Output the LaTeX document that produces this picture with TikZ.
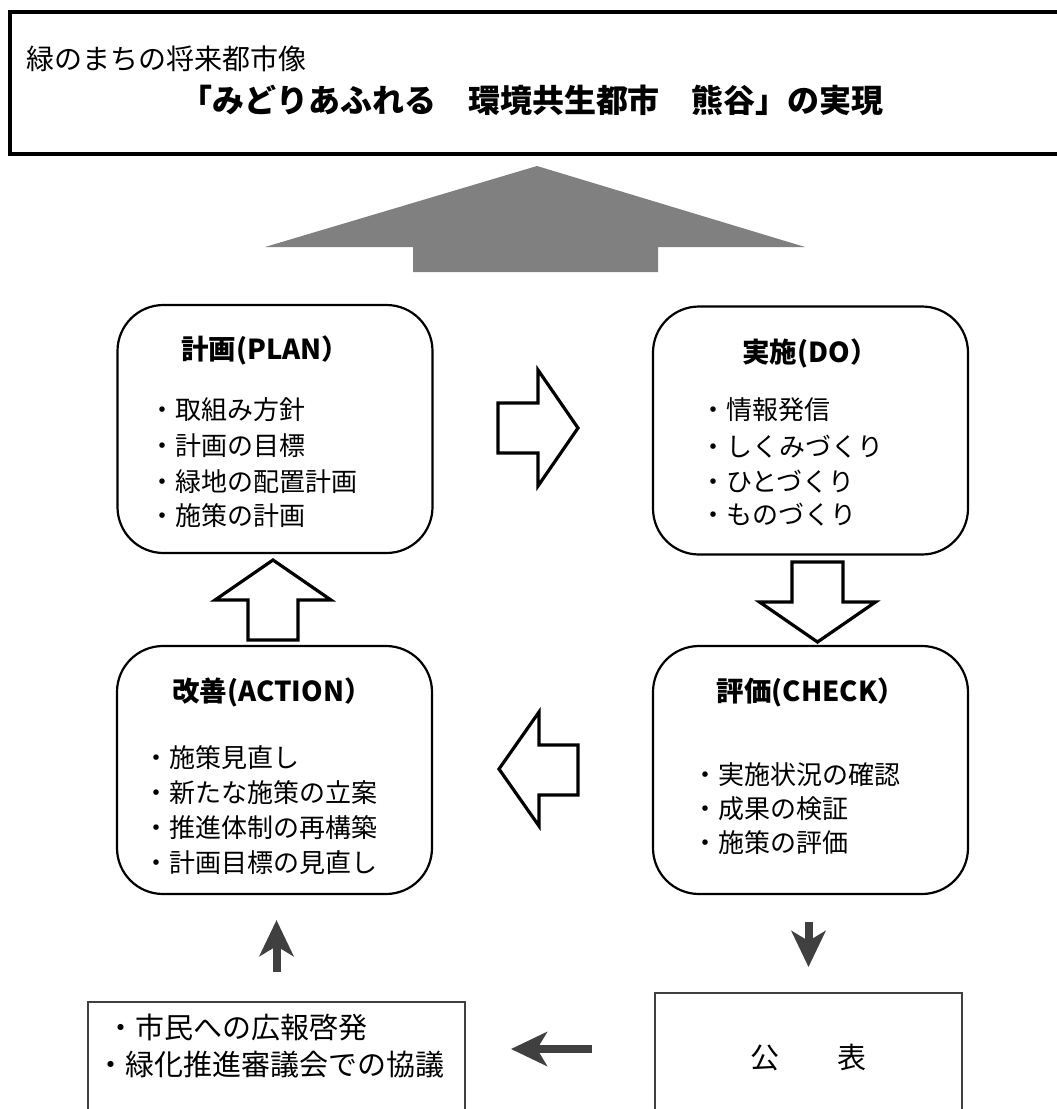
\documentclass[tikz,border=0pt]{standalone}
\usepackage{fontspec}
\newfontfamily\jp{Noto Sans CJK JP}
\usetikzlibrary{arrows.meta}
\definecolor{arrgray}{HTML}{404040}
\definecolor{boxgray}{HTML}{404040}
\definecolor{biggray}{HTML}{808080}
\begin{document}
\begin{tikzpicture}[x=1pt,y=-1pt,
  pdca/.style={draw=black, line width=2.2pt, rounded corners=46pt, minimum width=315pt, minimum height=248pt, inner sep=0pt, fill=white},
  boxtitle/.style={font=\jp\bfseries\fontsize{27.5}{30}\selectfont, inner sep=0pt},
  item/.style={font=\jp\fontsize{26}{30}\selectfont, anchor=west, inner sep=0pt},
  lowtext/.style={font=\jp\fontsize{29}{32}\selectfont, anchor=west, inner sep=0pt},
  hollow/.style={draw=black, line width=3.2pt, fill=white, line join=miter},
  darrow/.style={draw=arrgray, line width=8pt, -{Stealth[length=36pt,width=34pt,inset=10pt]}},
  infobox/.style={draw=boxgray, line width=2pt, inner sep=0pt},
]
\useasboundingbox (0,0) rectangle (1057,1109);
\clip (0,0) rectangle (1057,1109);
\fill[white] (0,0) rectangle (1057,1109);

% top vision box
\node[draw=black, line width=4pt, minimum width=1070pt, minimum height=142pt, inner sep=0pt] (vision) at (544.5,83) {};
\node[anchor=west, font=\jp\fontsize{28}{30}\selectfont, inner sep=0pt] (sub) at (26,59) {緑のまちの将来都市像};
\node[font=\jp\bfseries\fontsize{32}{36}\selectfont, inner sep=0pt] (ttl) at (532,100) {「みどりあふれる　環境共生都市　熊谷」の実現};

% big gray arrow
\fill[biggray] (537,166) -- (805,247) -- (658,247) -- (658,272) -- (413,272) -- (413,247) -- (265,247) -- cycle;

% PDCA boxes
\node[pdca] (plan) at (275,429) {};
\node[pdca] (do) at (810.5,430.5) {};
\node[pdca] (act) at (274.5,770) {};
\node[pdca] (chk) at (810.5,770) {};

\node[boxtitle] (plan-t) at (265,350) {計画(PLAN）};
\node[boxtitle] (do-t) at (810,353) {実施(DO）};
\node[boxtitle] (act-t) at (272,692) {改善(ACTION）};
\node[boxtitle] (chk-t) at (811,692) {評価(CHECK）};

\node[item] (p1) at (149,410) {・取組み方針};
\node[item] (p2) at (149,446) {・計画の目標};
\node[item] (p3) at (149,482) {・緑地の配置計画};
\node[item] (p4) at (149,516) {・施策の計画};

\node[item] (d1) at (700,410) {・情報発信};
\node[item] (d2) at (700,447) {・しくみづくり};
\node[item] (d3) at (700,482) {・ひとづくり};
\node[item] (d4) at (700,515) {・ものづくり};

\node[item] (a1) at (143,758) {・施策見直し};
\node[item] (a2) at (143,793) {・新たな施策の立案};
\node[item] (a3) at (143,828) {・推進体制の再構築};
\node[item] (a4) at (143,863) {・計画目標の見直し};

\node[item] (c1) at (692,775) {・実施状況の確認};
\node[item] (c2) at (692,809) {・成果の検証};
\node[item] (c3) at (692,843) {・施策の評価};

% hollow block arrows
\draw[hollow] (498,403) -- (538,403) -- (538,370) -- (578,428) -- (538,486) -- (538,453) -- (498,453) -- cycle;
\draw[hollow] (817.5,642) -- (875.5,602) -- (843,602) -- (843,562) -- (792,562) -- (792,602) -- (759.5,602) -- cycle;
\draw[hollow] (499,769) -- (539,712) -- (539,745) -- (578,745) -- (578,795) -- (539,795) -- (539,826) -- cycle;
\draw[hollow] (273,560) -- (331,600) -- (298,600) -- (298,640) -- (248,640) -- (248,600) -- (215,600) -- cycle;

% lower boxes
\node[infobox, minimum width=377pt, minimum height=118pt] (council) at (276.5,1061) {};
\node[infobox, minimum width=307pt, minimum height=127pt] (pub) at (808.5,1056.5) {};
\node[lowtext] (cl1) at (106,1027) {・市民への広報啓発};
\node[lowtext] (cl2) at (96,1065) {・緑化推進審議会での協議};
\node[font=\jp\fontsize{29}{32}\selectfont, inner sep=0pt] (pub-t) at (808.5,1058) {公　　表};

% dark arrows
\coordinate (lft) at (0,1049);
\draw[darrow, shorten <=27pt, shorten >=25pt] (chk.south -| pub.north) -- (pub.north);
\draw[darrow, shorten <=62pt, shorten >=45pt] (pub.west |- lft) -- (council.east |- lft);
\draw[darrow, shorten <=29pt, shorten >=25pt] (council.north) -- (council.north |- act.south);
\end{tikzpicture}
\end{document}
